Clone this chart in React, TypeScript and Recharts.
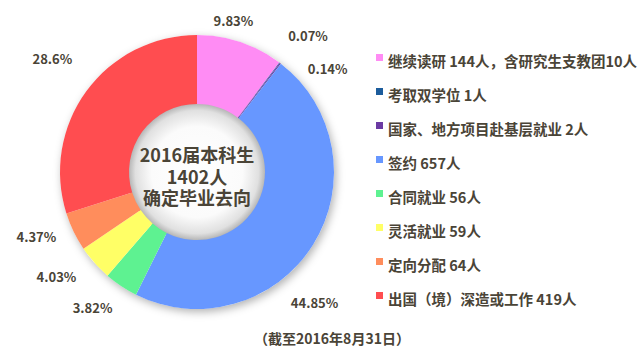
import { PieChart, Pie, Cell, Legend } from 'recharts'

const names = [
  '继续读研 144人，含研究生支教团10人',
  '考取双学位 1人',
  '国家、地方项目赴基层就业 2人',
  '签约 657人',
  '合同就业 56人',
  '灵活就业 59人',
  '定向分配 64人',
  '出国（境）深造或工作 419人',
]
const counts = [144, 1, 2, 657, 56, 59, 64, 419]
const percentLabels = ['9.83%', '0.07%', '0.14%', '44.85%', '3.82%', '4.03%', '4.37%', '28.6%']
const colors = ['#ff8cf4', '#1c5c9c', '#6b3aa3', '#6797ff', '#5ef291', '#ffff66', '#ff8d5c', '#ff4d50']
const centerLines = ['2016届本科生', '1402人', '确定毕业去向']
const footnote = '（截至2016年8月31日）'

// label placement tweaks (clockwise degrees from the slice middle, distance from centre)
const labelShift = [-5, 2, 14, 16, 4, 5, 4, 2]
const labelRadius = [156, 176, 167, 176, 171, 175, 173, 184]

const FONT = '"Noto Sans CJK SC", "Noto Sans", sans-serif'
const TEXT = '#4a4437'
const CX = 197
const CY = 172

const data = names.map((name, i) => ({ name, value: counts[i] }))

const renderLabel = (props: any) => {
  const { cx, cy, midAngle, index } = props
  const a = ((90 - midAngle + labelShift[index]) * Math.PI) / 180
  const r = labelRadius[index]
  return (
    <text
      x={cx + r * Math.sin(a)}
      y={cy - r * Math.cos(a)}
      textAnchor="middle"
      dominantBaseline="central"
      fill={TEXT}
      fontSize={13}
      fontWeight={700}
      fontFamily={FONT}
    >
      {percentLabels[index]}
    </text>
  )
}

const LegendList = () => (
  <div style={{ fontFamily: FONT, fontSize: 14.5, fontWeight: 700, color: TEXT }}>
    {names.map((n, i) => (
      <div key={n} style={{ display: 'flex', alignItems: 'center', height: 34, whiteSpace: 'nowrap' }}>
        <span
          style={{
            display: 'inline-block', width: 7, height: 7, background: colors[i],
            marginRight: 5, position: 'relative', top: -3,
          }}
        />
        {n}
      </div>
    ))}
  </div>
)

export default function App() {
  return (
    <div style={{ position: 'absolute', left: 0, top: 0, width: 640, height: 361, background: '#fff' }}>
      <style>{`
        .ring-bg path { filter: drop-shadow(2px 3px 4px rgba(0,0,0,0.3)); }
      `}</style>
      <svg width={0} height={0} style={{ position: 'absolute' }}>
        <defs>
          <radialGradient id="holeShade" cx="50%" cy="50%" r="50%">
            <stop offset="0%" stopColor="#ffffff" />
            <stop offset="65%" stopColor="#fbfbfb" />
            <stop offset="88%" stopColor="#e0e0e0" />
            <stop offset="100%" stopColor="#aaaaaa" />
          </radialGradient>
        </defs>
      </svg>
      <PieChart width={640} height={361} margin={{ top: 0, right: 0, bottom: 0, left: 0 }}>
        <Pie
          className="ring-bg"
          data={[{ name: 'bg', value: 1 }]}
          dataKey="value"
          cx={CX}
          cy={CY}
          innerRadius={68}
          outerRadius={137}
          isAnimationActive={false}
          stroke="none"
          legendType="none"
        >
          <Cell fill="#ffffff" />
        </Pie>
        <Pie
          data={[{ name: 'hole', value: 1 }]}
          dataKey="value"
          cx={CX}
          cy={CY}
          innerRadius={0}
          outerRadius={70}
          isAnimationActive={false}
          stroke="none"
          legendType="none"
        >
          <Cell fill="url(#holeShade)" />
        </Pie>
        <Pie
          data={data}
          dataKey="value"
          nameKey="name"
          cx={CX}
          cy={CY}
          innerRadius={68}
          outerRadius={137}
          startAngle={90}
          endAngle={-270}
          stroke="none"
          labelLine={false}
          label={renderLabel}
          isAnimationActive={false}
        >
          {data.map((d, i) => (
            <Cell key={d.name} fill={colors[i]} />
          ))}
        </Pie>
        <text
          x={332}
          y={338}
          textAnchor="middle"
          dominantBaseline="central"
          fontFamily={FONT}
          fontSize={14}
          fontWeight={700}
          fill={TEXT}
        >
          {footnote}
        </text>
        <Legend
          layout="vertical"
          verticalAlign="top"
          align="right"
          content={() => <LegendList />}
          wrapperStyle={{ left: 376, top: 43, width: 264 }}
        />
      </PieChart>
      <div
        style={{
          position: 'absolute', left: CX - 70, top: 144, width: 140, textAlign: 'center',
          fontFamily: FONT, fontSize: 18, fontWeight: 700, color: TEXT, lineHeight: '21.5px',
          pointerEvents: 'none',
        }}
      >
        {centerLines.map((l) => (
          <div key={l}>{l}</div>
        ))}
      </div>
    </div>
  )
}
